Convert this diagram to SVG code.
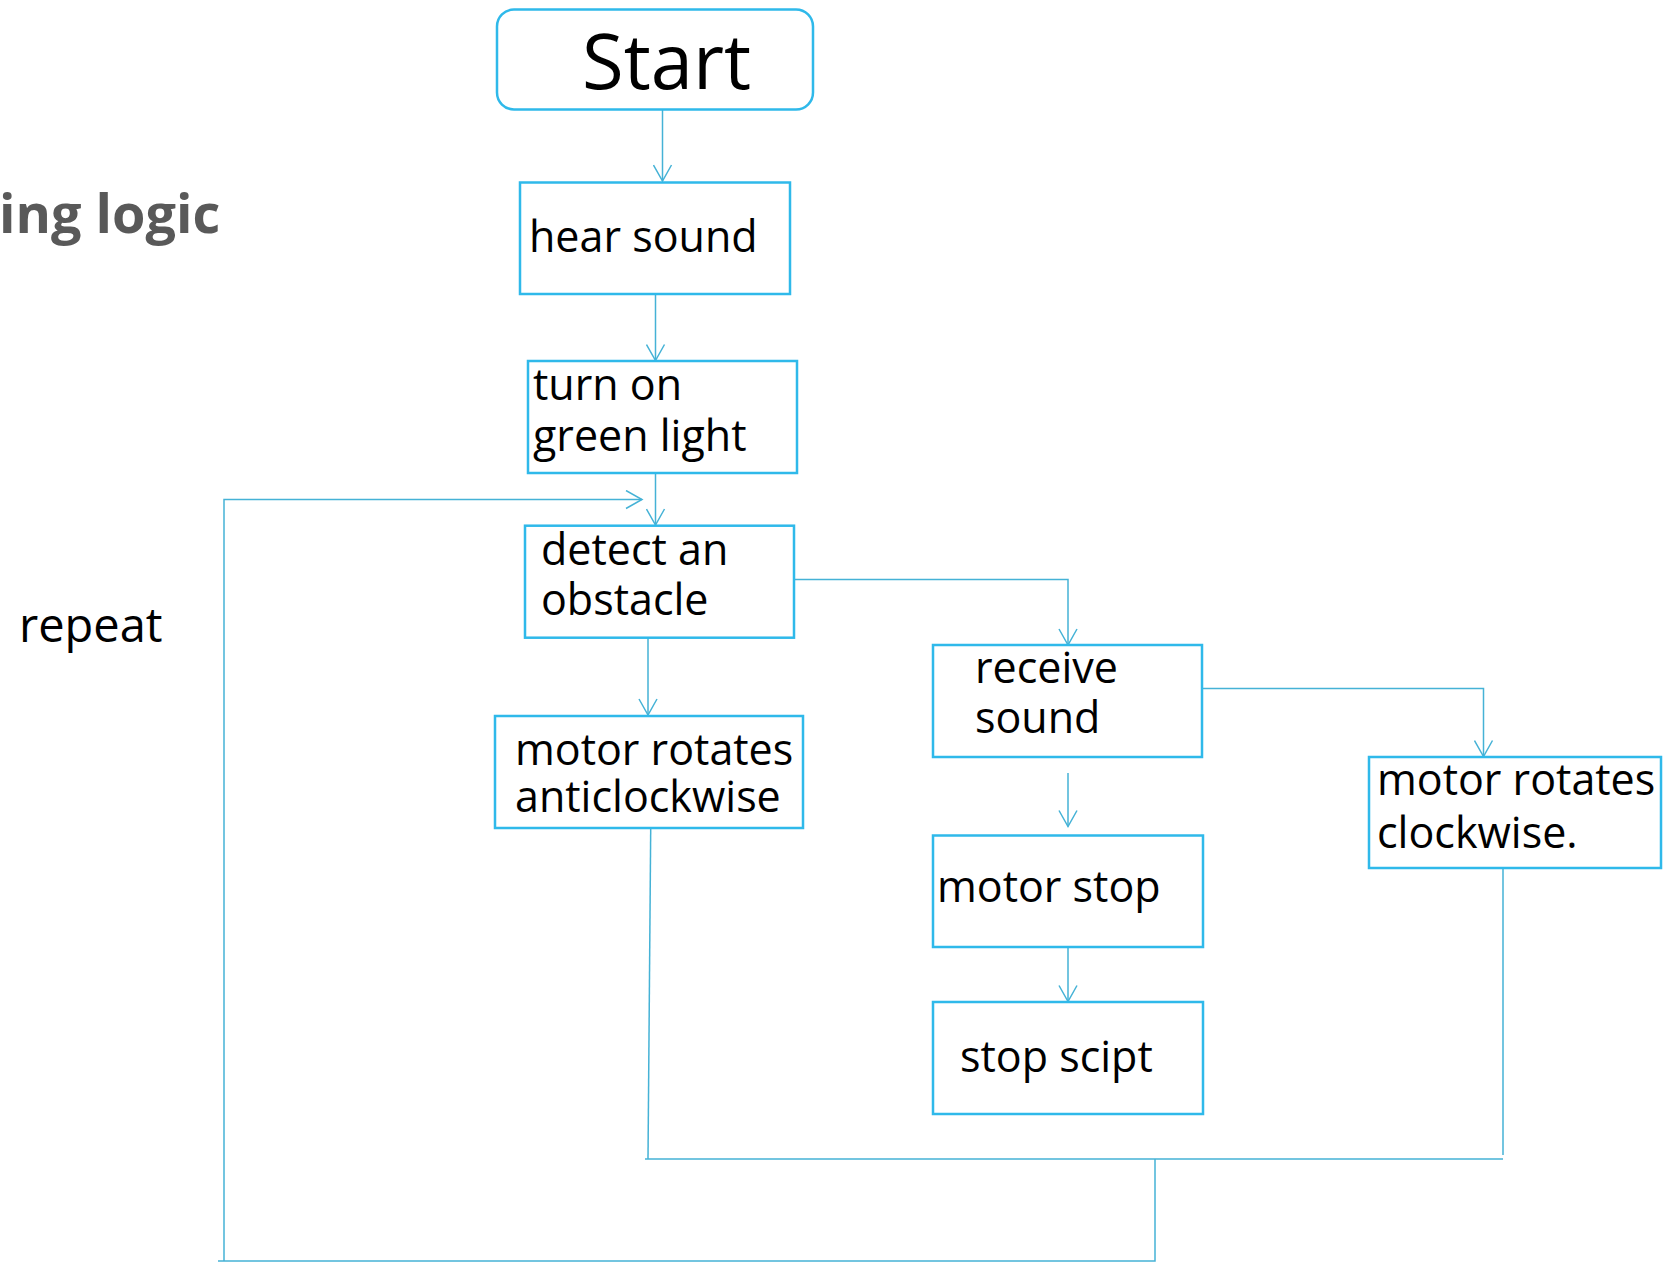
<svg xmlns="http://www.w3.org/2000/svg" width="1666" height="1263" viewBox="0 0 1666 1263">
<style>
.box{fill:#ffffff;stroke:#2fb9ea;stroke-width:2.5}
.t{font-family:"Open Sans","Noto Sans",sans-serif;font-size:43px;fill:#000000}
.c{fill:none;stroke:#45b2d6;stroke-width:1.5}
</style>
<defs>
<marker id="arr" viewBox="0 0 20 20" refX="18" refY="10" markerWidth="20" markerHeight="20" markerUnits="userSpaceOnUse" orient="auto">
<path d="M2,1 L18,10 L2,19" fill="none" stroke="#45b2d6" stroke-width="1.5"/>
</marker>
</defs>
<rect width="1666" height="1263" fill="#ffffff"/>
<text x="-1" y="233" style="font-family:'Open Sans','Noto Sans',sans-serif;font-size:54px;font-weight:bold;fill:#595959">ing logic</text>
<text x="19" y="642" class="t" style="font-size:47px">repeat</text>
<g id="connectors">
<path class="c" d="M662.5,110 V181" marker-end="url(#arr)"/>
<path class="c" d="M655.5,294.5 V360.5" marker-end="url(#arr)"/>
<path class="c" d="M655.5,473.5 V525" marker-end="url(#arr)"/>
<path class="c" d="M1155,1159 V1261 H218 M224,1261 V499.5 H642" marker-end="url(#arr)"/>
<path class="c" d="M650.7,829 L648,1159"/>
<path class="c" d="M645,1159 H1503"/>
<path class="c" d="M1503,869 V1155"/>
<path class="c" d="M648,638 V715" marker-end="url(#arr)"/>
<path class="c" d="M787,579.5 H1068 V645" marker-end="url(#arr)"/>
<path class="c" d="M1202,688.5 H1483.5 V756.5" marker-end="url(#arr)"/>
<path class="c" d="M1068,773 V826.5" marker-end="url(#arr)"/>
<path class="c" d="M1068,947 V1001.5" marker-end="url(#arr)"/>
</g>
<g id="start">
<rect class="box" x="497" y="9.5" width="316" height="100" rx="17"/>
<text x="582" y="89" class="t" style="font-size:76px">Start</text>
</g>
<g id="hear-sound">
<rect class="box" x="520" y="182.5" width="270" height="111.5"/>
<text x="529" y="252" class="t">hear sound</text>
</g>
<g id="turn-on-green-light">
<rect class="box" x="528" y="361" width="269" height="112"/>
<text class="t"><tspan x="533" y="400">turn on</tspan><tspan x="533" y="451">green light</tspan></text>
</g>
<g id="detect-obstacle">
<rect class="box" x="525" y="525.7" width="269" height="112"/>
<text class="t"><tspan x="541" y="565">detect an</tspan><tspan x="541" y="615">obstacle</tspan></text>
</g>
<g id="motor-anticlockwise">
<rect class="box" x="495" y="716" width="308" height="112"/>
<text class="t"><tspan x="515" y="765">motor rotates</tspan><tspan x="515" y="812">anticlockwise</tspan></text>
</g>
<g id="receive-sound">
<rect class="box" x="933" y="645" width="269" height="112"/>
<text class="t"><tspan x="975" y="683">receive</tspan><tspan x="975" y="733">sound</tspan></text>
</g>
<g id="motor-clockwise">
<rect class="box" x="1369" y="757" width="292" height="111"/>
<text class="t"><tspan x="1377" y="795">motor rotates</tspan><tspan x="1377" y="848">clockwise.</tspan></text>
</g>
<g id="motor-stop">
<rect class="box" x="933" y="835.5" width="270" height="111.5"/>
<text x="937" y="902" class="t">motor stop</text>
</g>
<g id="stop-script">
<rect class="box" x="933" y="1002" width="270" height="112"/>
<text x="960" y="1072" class="t">stop scipt</text>
</g>
</svg>
